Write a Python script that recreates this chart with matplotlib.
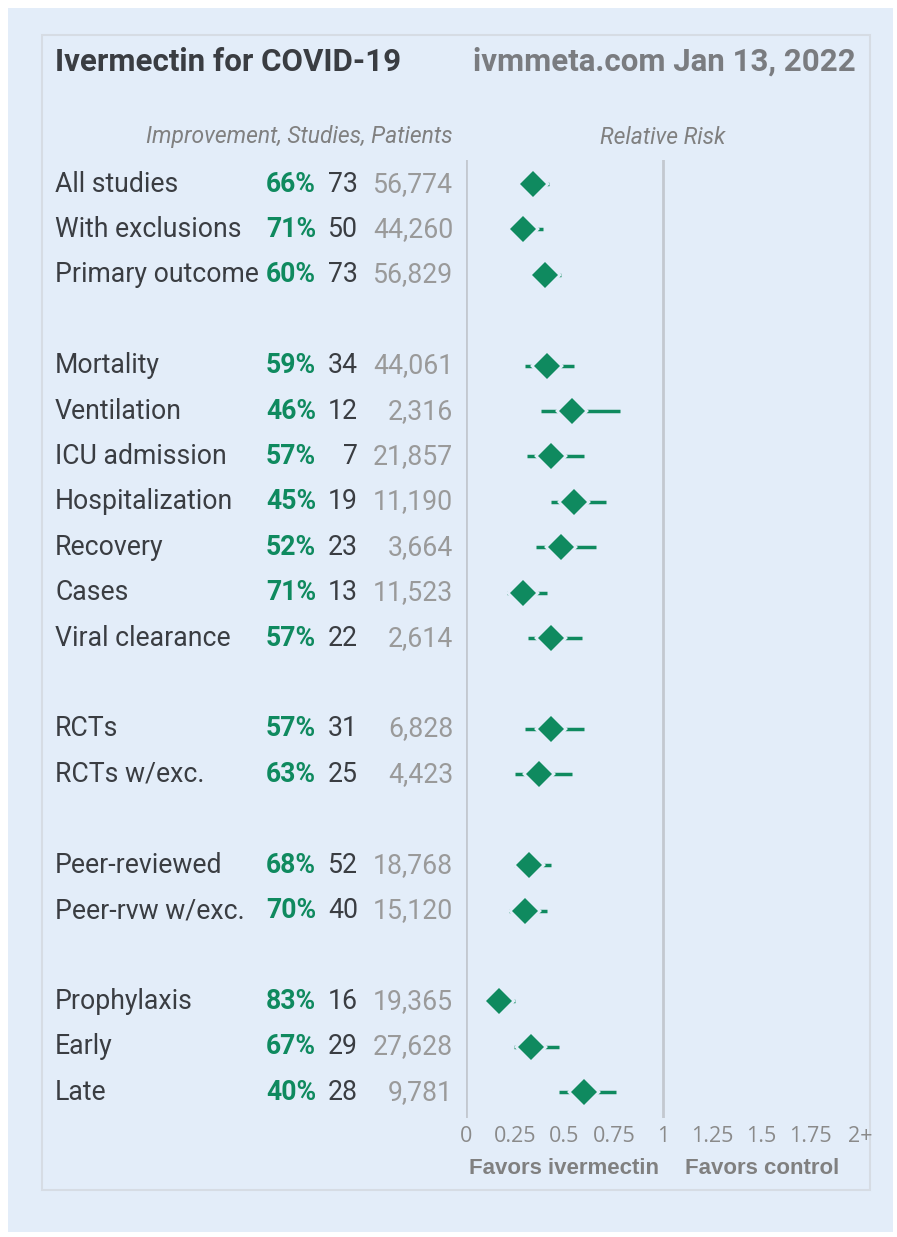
import matplotlib.pyplot as plt
import matplotlib.transforms as mtransforms
from matplotlib.patches import Rectangle

# data
labels = ["All studies", "With exclusions", "Primary outcome",
          "Mortality", "Ventilation", "ICU admission", "Hospitalization",
          "Recovery", "Cases", "Viral clearance",
          "RCTs", "RCTs w/exc.",
          "Peer-reviewed", "Peer-rvw w/exc.",
          "Prophylaxis", "Early", "Late"]
rows = [0, 1, 2, 4, 5, 6, 7, 8, 9, 10, 12, 13, 15, 16, 18, 19, 20]
improvement = [66, 71, 60, 59, 46, 57, 45, 52, 71, 57, 57, 63, 68, 70, 83, 67, 40]
studies = [73, 50, 73, 34, 12, 7, 19, 23, 13, 22, 31, 25, 52, 40, 16, 29, 28]
patients = [56774, 44260, 56829, 44061, 2316, 21857, 11190, 3664, 11523, 2614,
            6828, 4423, 18768, 15120, 19365, 27628, 9781]
ci_low = [0.29, 0.24, 0.33, 0.30, 0.38, 0.31, 0.43, 0.355, 0.21, 0.315,
          0.30, 0.25, 0.245, 0.22, 0.12, 0.245, 0.47]
ci_high = [0.42, 0.39, 0.48, 0.55, 0.78, 0.60, 0.71, 0.66, 0.41, 0.59,
           0.60, 0.54, 0.43, 0.41, 0.25, 0.47, 0.76]
ticks = [0, 0.25, 0.5, 0.75, 1, 1.25, 1.5, 1.75, 2]
tick_labels = ["0", "0.25", "0.5", "0.75", "1", "1.25", "1.5", "1.75", "2+"]

rr = [1 - v / 100 for v in improvement]

W, H = 897, 1237
bg = "#e3edf9"
green = "#0f8a5f"
dark = "#3a3d42"
gray = "#9a9a9a"
plt.rcParams['font.family'] = ['Roboto', 'DejaVu Sans']

fig = plt.figure(figsize=(W / 100, H / 100), dpi=100)
fig.patch.set_facecolor("white")
fig.patches.append(Rectangle((8 / W, 1 - 1232 / H), 885 / W, 1224 / H,
                             transform=fig.transFigure, facecolor=bg,
                             edgecolor="none", zorder=-2))
fig.patches.append(Rectangle((42 / W, 1 - 1190 / H), 828 / W, 1155 / H,
                             transform=fig.transFigure, facecolor="none",
                             edgecolor="#d6dce4", linewidth=1.5, zorder=-1))

# plot axes: x=0 at px 466, x=2 at px 860
ax = fig.add_axes([466 / W, 1 - 1118 / H, 394 / W, (1118 - 160) / H])
ax.set_facecolor("none")
ax.set_xlim(0, 2)
ax.set_ylim(20.57, -0.53)
for s in ax.spines.values():
    s.set_visible(False)
ax.axvline(0, color="#c3c8d0", lw=2)
ax.axvline(1, color="#c3c8d0", lw=2)
ax.set_yticks([])
ax.set_xticks(ticks)
ax.set_xticklabels(tick_labels, fontsize=15.5, color="#8a8a8a", family="Open Sans")
ax.tick_params(axis="x", length=0, pad=6)

for y, lo, hi, m in zip(rows, ci_low, ci_high, rr):
    ax.plot([lo, hi], [y, y], color=green, lw=2.5, solid_capstyle="butt", zorder=2)
    ax.plot(m, y, marker="D", ms=13.5, color=green, mec=bg, mew=4, zorder=3)
    ax.plot(m, y, marker="D", ms=13.5, color=green, mec=green, mew=0, zorder=4)

tr = mtransforms.blended_transform_factory(fig.transFigure, ax.transData)
for y, lab, imp, n, p in zip(rows, labels, improvement, studies, patients):
    ax.text(55 / W, y, lab, transform=tr, ha="left", va="center",
            fontsize=19.2, color=dark)
    ax.text(316 / W, y, f"{imp}%", transform=tr, ha="right", va="center",
            fontsize=19.2, color=green, fontweight="bold")
    ax.text(358 / W, y, str(n), transform=tr, ha="right", va="center",
            fontsize=19.2, color=dark)
    ax.text(453 / W, y, f"{p:,}", transform=tr, ha="right", va="center",
            fontsize=19.2, color=gray)

fig.text(55 / W, 1 - 62 / H, "Ivermectin for COVID-19", ha="left", va="center",
         fontsize=22.5, fontweight="bold", color=dark)
fig.text(856 / W, 1 - 62 / H, "ivmmeta.com Jan 13, 2022", ha="right", va="center",
         fontsize=22.5, fontweight="bold", color="#7a7c80")
fig.text(453 / W, 1 - 137 / H, "Improvement, Studies, Patients", ha="right",
         va="center", fontsize=16.5, style="italic", color="#808080")
fig.text(663 / W, 1 - 137 / H, "Relative Risk", ha="center", va="center",
         fontsize=16.5, style="italic", color="#808080")
fig.text(564 / W, 1 - 1168 / H, "Favors ivermectin", ha="center", va="center",
         fontsize=16, fontweight="bold", color="#808080", family="Liberation Sans")
fig.text(762 / W, 1 - 1168 / H, "Favors control", ha="center", va="center",
         fontsize=16, fontweight="bold", color="#808080", family="Liberation Sans")

fig.savefig("out.png", dpi=100, facecolor=fig.get_facecolor())
